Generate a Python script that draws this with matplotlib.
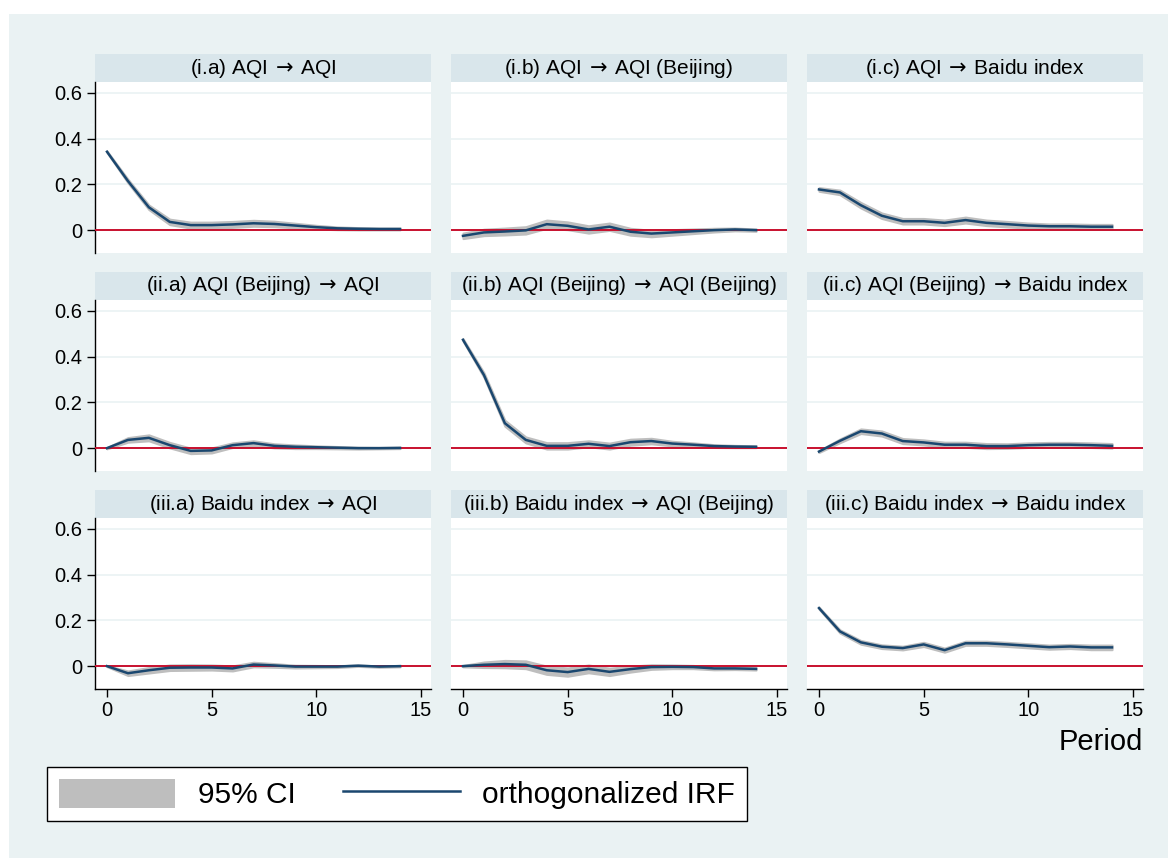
import matplotlib
matplotlib.use("Agg")
import matplotlib.pyplot as plt
from matplotlib.patches import Rectangle, Patch
from matplotlib.lines import Line2D

plt.rcParams['font.family'] = ['Liberation Sans', 'DejaVu Sans']
plt.rcParams['mathtext.fontset'] = 'dejavusans'

W, H = 1168, 858

periods = list(range(15))

ARROW = r"$\,\rightarrow\,$"
titles = [
    f"(i.a) AQI{ARROW}AQI", f"(i.b) AQI{ARROW}AQI (Beijing)", f"(i.c) AQI{ARROW}Baidu index",
    f"(ii.a) AQI (Beijing){ARROW}AQI", f"(ii.b) AQI (Beijing){ARROW}AQI (Beijing)",
    f"(ii.c) AQI (Beijing){ARROW}Baidu index",
    f"(iii.a) Baidu index{ARROW}AQI", f"(iii.b) Baidu index{ARROW}AQI (Beijing)",
    f"(iii.c) Baidu index{ARROW}Baidu index",
]

# orthogonalized IRF
irf_ia = [0.343, 0.215, 0.100, 0.036, 0.022, 0.022, 0.025, 0.030, 0.027, 0.020, 0.013, 0.008, 0.006, 0.005, 0.005]
irf_ib = [-0.025, -0.010, -0.006, -0.001, 0.026, 0.019, 0.003, 0.015, -0.007, -0.015, -0.010, -0.005, 0.000, 0.003, 0.000]
irf_ic = [0.178, 0.165, 0.109, 0.063, 0.039, 0.039, 0.032, 0.044, 0.032, 0.026, 0.020, 0.017, 0.017, 0.015, 0.015]
irf_iia = [0.000, 0.036, 0.045, 0.013, -0.012, -0.010, 0.013, 0.022, 0.010, 0.006, 0.004, 0.002, 0.000, 0.000, 0.001]
irf_iib = [0.474, 0.320, 0.109, 0.036, 0.010, 0.010, 0.019, 0.009, 0.026, 0.031, 0.020, 0.015, 0.009, 0.007, 0.006]
irf_iic = [-0.015, 0.032, 0.074, 0.064, 0.031, 0.025, 0.015, 0.015, 0.009, 0.009, 0.013, 0.015, 0.015, 0.013, 0.010]
irf_iiia = [0.000, -0.031, -0.018, -0.007, -0.006, -0.006, -0.010, 0.007, 0.003, -0.002, -0.002, -0.002, 0.002, -0.002, 0.000]
irf_iiib = [0.000, 0.006, 0.009, 0.006, -0.018, -0.026, -0.012, -0.025, -0.013, -0.004, -0.003, -0.004, -0.010, -0.010, -0.012]
irf_iiic = [0.254, 0.152, 0.104, 0.085, 0.079, 0.095, 0.070, 0.100, 0.100, 0.095, 0.089, 0.083, 0.086, 0.082, 0.082]

# half-width of the 95% CI band
ci_ia = [0.003, 0.008, 0.010, 0.012, 0.013, 0.013, 0.013, 0.013, 0.012, 0.010, 0.008, 0.006, 0.005, 0.004, 0.004]
ci_ib = [0.012, 0.014, 0.015, 0.016, 0.018, 0.017, 0.016, 0.016, 0.015, 0.014, 0.012, 0.010, 0.008, 0.006, 0.005]
ci_ic = [0.008, 0.010, 0.012, 0.012, 0.012, 0.012, 0.012, 0.013, 0.012, 0.012, 0.011, 0.010, 0.010, 0.010, 0.010]
ci_iia = [0.003, 0.010, 0.013, 0.012, 0.012, 0.011, 0.010, 0.010, 0.009, 0.008, 0.006, 0.005, 0.004, 0.003, 0.003]
ci_iib = [0.005, 0.010, 0.013, 0.013, 0.014, 0.014, 0.013, 0.013, 0.013, 0.012, 0.010, 0.008, 0.006, 0.005, 0.004]
ci_iic = [0.004, 0.008, 0.010, 0.011, 0.011, 0.011, 0.011, 0.011, 0.011, 0.010, 0.010, 0.010, 0.010, 0.010, 0.010]
ci_iiia = [0.002, 0.010, 0.012, 0.012, 0.012, 0.011, 0.011, 0.010, 0.008, 0.006, 0.005, 0.004, 0.003, 0.003, 0.003]
ci_iiib = [0.003, 0.012, 0.016, 0.017, 0.018, 0.018, 0.017, 0.016, 0.013, 0.010, 0.008, 0.007, 0.006, 0.005, 0.005]
ci_iiic = [0.004, 0.007, 0.008, 0.008, 0.008, 0.009, 0.009, 0.009, 0.009, 0.009, 0.009, 0.009, 0.009, 0.010, 0.010]

irfs = [irf_ia, irf_ib, irf_ic, irf_iia, irf_iib, irf_iic, irf_iiia, irf_iiib, irf_iiic]
cis = [ci_ia, ci_ib, ci_ic, ci_iia, ci_iib, ci_iic, ci_iiia, ci_iiib, ci_iiic]

y_ticks = [0, 0.2, 0.4, 0.6]
y_ticklabels = ["0", "0.2", "0.4", "0.6"]
x_ticks = [0, 5, 10, 15]

BG = '#EAF2F3'
STRIP = '#D9E6EB'
LINE = '#1A476F'
BAND = '#BEBEBE'
ZERO = '#C8102E'

fig = plt.figure(figsize=(W / 100, H / 100), dpi=100)
fig.patch.set_facecolor('white')
fig.patches.append(Rectangle((9 / W, 0), 1 - 9 / W, 1 - 14 / H, transform=fig.transFigure,
                             facecolor=BG, edgecolor='none', zorder=-10))


def fx(px):
    return px / W


def fy(py):
    return 1 - py / H


for i in range(9):
    r, c = divmod(i, 3)
    left = 95 + 356 * c
    strip_top = 54 + 218 * r
    top = strip_top + 28
    bottom = top + 171
    width = 336

    # strip title
    fig.patches.append(Rectangle((fx(left), fy(top)), width / W, 28 / H, transform=fig.transFigure,
                                 facecolor=STRIP, edgecolor='none', zorder=-5))
    fig.text(fx(left + width / 2), fy(strip_top + 14), titles[i], ha='center', va='center',
             fontsize=15, color='black')

    ax = fig.add_axes([fx(left), fy(bottom), width / W, 171 / H])
    ax.set_facecolor('white')
    ax.set_xlim(-0.573, 15.48)
    ax.set_ylim(-0.1, 0.648)
    for yv in [0.2, 0.4, 0.6]:
        ax.axhline(yv, color=BG, lw=1.2, zorder=1)
    lo = [v - h for v, h in zip(irfs[i], cis[i])]
    hi = [v + h for v, h in zip(irfs[i], cis[i])]
    ax.fill_between(periods, lo, hi, color=BAND, lw=1.5, edgecolor=BAND, zorder=2)
    ax.axhline(0, color=ZERO, lw=1.4, zorder=3)
    ax.plot(periods, irfs[i], color=LINE, lw=1.8, zorder=4)

    for s in ['top', 'right']:
        ax.spines[s].set_visible(False)
    ax.spines['left'].set_visible(c == 0)
    ax.spines['bottom'].set_visible(r == 2)
    ax.spines['left'].set_linewidth(1.0)
    ax.spines['bottom'].set_linewidth(1.0)

    if c == 0:
        ax.set_yticks(y_ticks)
        ax.set_yticklabels(y_ticklabels)
        ax.tick_params(axis='y', length=6, width=1, labelsize=14.5, pad=3)
    else:
        ax.set_yticks([])
    if r == 2:
        ax.set_xticks(x_ticks)
        ax.tick_params(axis='x', length=6, width=1, labelsize=14.5, pad=3)
    else:
        ax.set_xticks([])

fig.text(fx(1143), fy(742), "Period", ha='right', va='center', fontsize=21)

handles = [Patch(facecolor=BAND, edgecolor='none'), Line2D([0], [0], color=LINE, lw=1.8)]
leg = fig.legend(handles, ["95% CI", "orthogonalized IRF"], ncol=2, loc='upper left',
                 bbox_to_anchor=(fx(47), fy(767)),
                 fontsize=21.5, frameon=True, fancybox=False, framealpha=1,
                 handlelength=3.9, handleheight=1.1, handletextpad=0.75, columnspacing=1.6,
                 borderpad=0.4, borderaxespad=0)
leg.get_frame().set_edgecolor('black')
leg.get_frame().set_linewidth(1.0)
leg.get_frame().set_facecolor('white')

fig.savefig("out.png", dpi=100, facecolor=fig.get_facecolor())
